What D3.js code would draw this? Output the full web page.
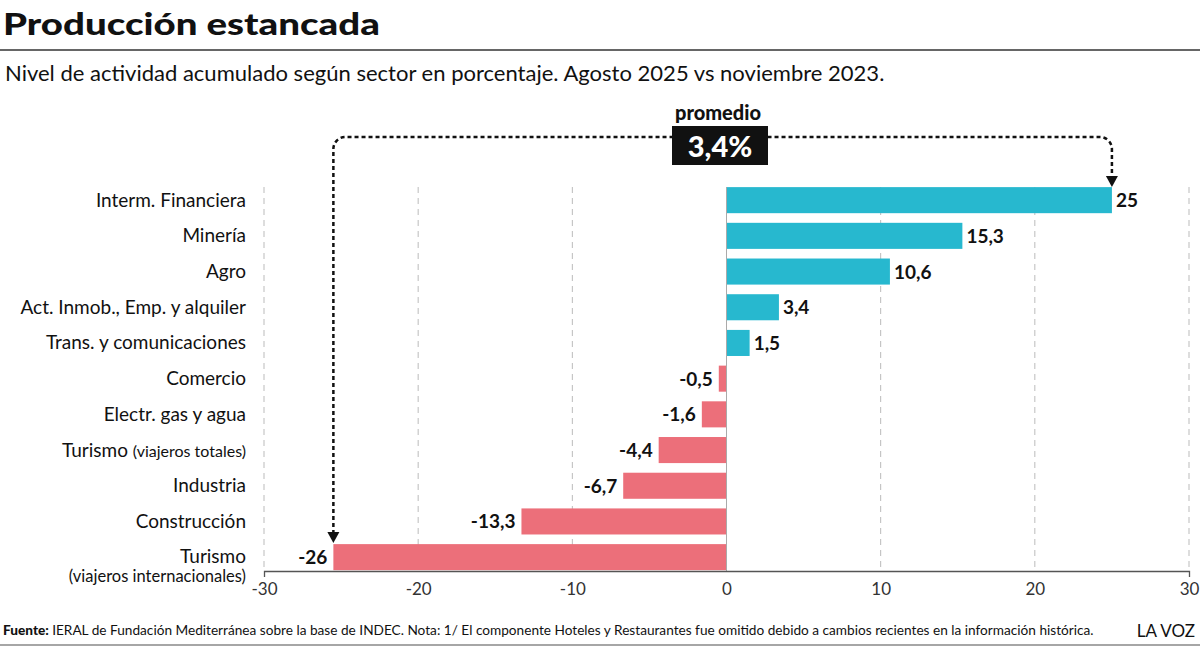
<!DOCTYPE html>
<html><head><meta charset="utf-8">
<script src="https://cdn.jsdelivr.net/npm/d3@7"></script>
<style>body{margin:0;background:#fff}svg{display:block}text{font-family:Lato,"Open Sans",sans-serif}</style>
</head><body>
<svg id="c" width="1200" height="646"></svg>
<script>
const categories = ["Interm. Financiera","Minería","Agro","Act. Inmob., Emp. y alquiler","Trans. y comunicaciones","Comercio","Electr. gas y agua","Turismo|(viajeros totales)","Industria","Construcción","Turismo||(viajeros internacionales)"];
const values = [25,15.3,10.6,3.4,1.5,-0.5,-1.6,-4.4,-6.7,-13.3,-25.5];
const valueLabels = ["25","15,3","10,6","3,4","1,5","-0,5","-1,6","-4,4","-6,7","-13,3","-26"];
const xTicks = [-30,-20,-10,0,10,20,30];
const promedio = "3,4%";

const svg = d3.select("#c");
const x = d3.scaleLinear().domain([-30,30]).range([264,1189]);
const y = d3.scaleBand().domain(categories).range([182.3,575]).paddingInner(0.27).paddingOuter(0.135);
const axisY = 571, gridTop = 187;
const cyan = "#27b8cf", pink = "#ec6f7a";

function fit(sel, target){
  const w = sel.node().getComputedTextLength();
  const fs = parseFloat(sel.attr("font-size"));
  sel.attr("font-size", (fs*target/w).toFixed(2));
  sel.selectAll("tspan").each(function(){
    const t = d3.select(this); const s = t.attr("font-size");
    if (s) t.attr("font-size", (parseFloat(s)*target/w).toFixed(2));
  });
}

// title (horizontally stretched to reference width, kept inside the top edge)
const tg = svg.append("g");
const title = tg.append("text").attr("x",0).attr("y",0).attr("font-size",31).attr("font-weight",900)
  .attr("fill","#111").text("Producción estancada");
const tw = title.node().getComputedTextLength();
tg.attr("transform",`translate(3,35) scale(${(377/tw).toFixed(4)},1)`);
svg.append("line").attr("x1",0).attr("x2",1200).attr("y1",50).attr("y2",50).attr("stroke","#333").attr("stroke-width",1.5);
const sub = svg.append("text").attr("x",5).attr("y",81).attr("font-size",22).attr("fill","#111")
  .text("Nivel de actividad acumulado según sector en porcentaje. Agosto 2025 vs noviembre 2023.");
fit(sub, 880);

// grid
svg.append("g").selectAll("line").data(xTicks.filter(d=>d!==0)).join("line")
  .attr("x1",d=>x(d)).attr("x2",d=>x(d)).attr("y1",gridTop).attr("y2",axisY)
  .attr("stroke","#bbb").attr("stroke-width",1).attr("stroke-dasharray","6,5");

// bars
svg.append("g").selectAll("rect").data(values).join("rect")
  .attr("x",d=>x(Math.min(0,d))).attr("width",d=>Math.abs(x(d)-x(0)))
  .attr("y",(d,i)=>y(categories[i])).attr("height",y.bandwidth())
  .attr("fill",d=>d>=0?cyan:pink);

// zero line
svg.append("line").attr("x1",x(0)).attr("x2",x(0)).attr("y1",gridTop).attr("y2",axisY).attr("stroke","#aaa").attr("stroke-width",1);

// value labels
svg.append("g").selectAll("text").data(values).join("text")
  .attr("x",d=>d>=0?x(d)+4:x(d)-6).attr("y",(d,i)=>y(categories[i])+y.bandwidth()/2+7)
  .attr("text-anchor",d=>d>=0?"start":"end").attr("font-size",19).attr("font-weight",700).attr("fill","#111")
  .text((d,i)=>valueLabels[i]);

// category labels
const cl = svg.append("g");
categories.forEach((c,i)=>{
  const cy = y(c)+y.bandwidth()/2;
  const parts = c.split("|");
  if (parts.length===1){
    cl.append("text").attr("x",246).attr("y",cy+6.5).attr("text-anchor","end").attr("font-size",19).attr("fill","#111").text(c);
  } else if (parts.length===2){
    const t = cl.append("text").attr("x",246).attr("y",cy+6.5).attr("text-anchor","end").attr("fill","#111");
    t.append("tspan").attr("font-size",19).text(parts[0]+" ");
    t.append("tspan").attr("font-size",16).text(parts[1]);
  } else {
    cl.append("text").attr("x",246).attr("y",cy+6).attr("text-anchor","end").attr("font-size",19).attr("fill","#111").text(parts[0]);
    cl.append("text").attr("x",246).attr("y",cy+25).attr("text-anchor","end").attr("font-size",16.5).attr("fill","#111").text(parts[2]);
  }
});

// axis
const ax = svg.append("g").attr("transform",`translate(0,${axisY})`)
  .call(d3.axisBottom(x).tickValues(xTicks).tickSizeInner(0).tickSizeOuter(6).tickPadding(12).tickFormat(d=>String(d)));
ax.select(".domain").attr("stroke","#555").attr("stroke-width",1.3);
ax.selectAll(".tick text").attr("font-size",17).attr("fill","#333").attr("font-family","Lato,sans-serif");

// promedio annotation
const lx = x(values[values.length-1]), rx = x(values[0]);
const topY = 137, r = 12;
const leftEnd = y(categories[categories.length-1]) - 10;
const rightEnd = y(categories[0]) - 9;
const p = d3.path();
p.moveTo(lx, leftEnd); p.lineTo(lx, topY + r);
p.arcTo(lx, topY, lx + r, topY, r);
p.lineTo(rx - r, topY);
p.arcTo(rx, topY, rx, topY + r, r);
p.lineTo(rx, rightEnd);
svg.append("path").attr("d",p.toString()).attr("fill","none").attr("stroke","#111").attr("stroke-width",2.5).attr("stroke-dasharray","4,3");
[[lx,leftEnd],[rx,rightEnd]].forEach(([ax_,ay])=>{
  svg.append("path").attr("d",`M${ax_-6},${ay-2}L${ax_+6},${ay-2}L${ax_},${ay+9}Z`).attr("fill","#111");
});
svg.append("rect").attr("x",672).attr("y",126).attr("width",96).attr("height",39).attr("fill","#111");
svg.append("text").attr("x",720).attr("y",157).attr("text-anchor","middle").attr("font-size",29).attr("font-weight",900).attr("fill","#fff").text(promedio);
svg.append("text").attr("x",718).attr("y",120).attr("text-anchor","middle").attr("font-size",20).attr("font-weight",900).attr("fill","#111").text("promedio");

// footer
const f = svg.append("text").attr("x",3).attr("y",635).attr("font-size",15).attr("fill","#111");
f.append("tspan").attr("font-weight",900).text("Fuente: ");
f.append("tspan").text("IERAL de Fundación Mediterránea sobre la base de INDEC. Nota: 1/ El componente Hoteles y Restaurantes fue omitido debido a cambios recientes en la información histórica.");
fit(f, 1091);
svg.append("text").attr("x",1195).attr("y",637).attr("text-anchor","end").attr("font-size",17).attr("fill","#111").text("LA VOZ");
svg.append("line").attr("x1",0).attr("x2",1200).attr("y1",645).attr("y2",645).attr("stroke","#888").attr("stroke-width",1.5);
</script>
</body></html>
